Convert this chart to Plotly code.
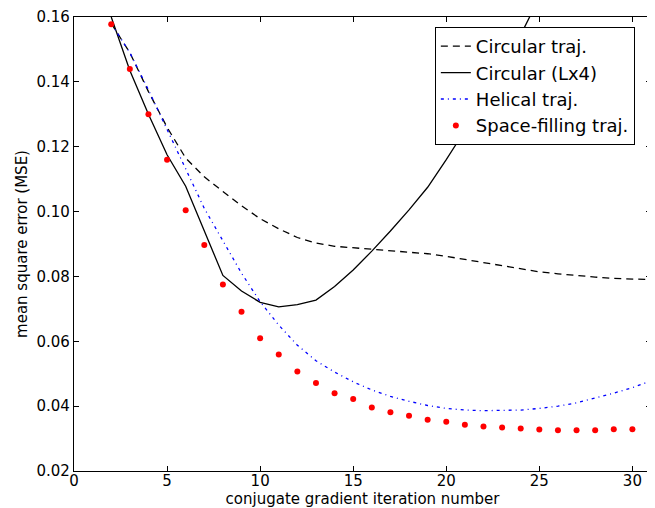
import plotly.graph_objects as go

iters = list(range(2, 32))

circular = [0.158, 0.149, 0.137, 0.126, 0.1165, 0.1107, 0.1062, 0.1018, 0.0978, 0.0947,
            0.0920, 0.0903, 0.0893, 0.0888, 0.0884, 0.0880, 0.0875, 0.0870, 0.0862, 0.0852,
            0.0842, 0.0832, 0.0822, 0.0814, 0.0808, 0.0802, 0.0798, 0.0794, 0.0791, 0.0790]

circular_lx4 = [0.160, 0.1435, 0.130, 0.1175, 0.1078, 0.094, 0.0803, 0.0755, 0.0720, 0.0706,
                0.0713, 0.0727, 0.0769, 0.0820, 0.0878, 0.0940, 0.1005, 0.1075, 0.1160, 0.1250,
                0.1340, 0.1440, 0.1545, 0.1660, 0.178, 0.190, 0.203, 0.216, 0.229, 0.242]

helical = [0.158, 0.149, 0.1375, 0.1255, 0.113, 0.101, 0.091, 0.081, 0.0722, 0.0650,
           0.0588, 0.0540, 0.0505, 0.0475, 0.0450, 0.0430, 0.0415, 0.0402, 0.0393, 0.0388,
           0.0386, 0.0386, 0.0388, 0.0393, 0.0400, 0.0410, 0.0424, 0.0440, 0.0457, 0.0478]

space_filling = [0.1578, 0.1440, 0.1300, 0.1160, 0.1004, 0.0897, 0.0775, 0.0691, 0.0609, 0.0559,
                 0.0507, 0.0471, 0.0440, 0.0422, 0.0396, 0.0381, 0.0370, 0.0358, 0.0352, 0.0343,
                 0.0337, 0.0334, 0.0331, 0.0328, 0.0326, 0.0326, 0.0326, 0.0329, 0.0329, 0.0331]

x_ticks = [0, 5, 10, 15, 20, 25, 30]
y_ticks = [0.02, 0.04, 0.06, 0.08, 0.10, 0.12, 0.14, 0.16]

fig = go.Figure()
fig.add_trace(go.Scatter(x=iters, y=circular, mode="lines", name="Circular traj.",
                         line=dict(color="black", width=1.3, dash="7px,5px")))
fig.add_trace(go.Scatter(x=iters, y=circular_lx4, mode="lines", name="Circular (Lx4)",
                         line=dict(color="black", width=1.3)))
fig.add_trace(go.Scatter(x=iters, y=helical, mode="lines", name="Helical traj.",
                         line=dict(color="blue", width=1.3, dash="3px,4px,1px,4px")))
fig.add_trace(go.Scatter(x=iters, y=space_filling, mode="markers", name="Space-filling traj.",
                         marker=dict(color="red", size=6, line=dict(width=0))))

axis_common = dict(showgrid=False, zeroline=False, showline=True, linecolor="black",
                   linewidth=1.2, mirror="ticks", ticks="inside", ticklen=5,
                   tickcolor="black", tickfont=dict(size=15, color="black"),
                   automargin=False)

fig.update_xaxes(range=[0, 31], tickvals=x_ticks, ticklabelstandoff=-4,
                 title=dict(text="conjugate gradient iteration number", font=dict(size=15), standoff=7),
                 **axis_common)
fig.update_yaxes(range=[0.02, 0.16], tickvals=y_ticks, tickformat=".2f",
                 title=dict(text="mean square error (MSE)", font=dict(size=15), standoff=5),
                 **axis_common)

# The page body has an 8px default margin, so the figure is 8px smaller
# and the margins are reduced by 8px to land the plot area where the reference has it.
fig.update_layout(
    width=647, height=500,
    margin=dict(l=66, r=4, t=9, b=37),
    paper_bgcolor="white", plot_bgcolor="white",
    font=dict(family="DejaVu Sans", color="black", size=15),
    showlegend=True,
    legend=dict(x=0.972, y=0.978, xanchor="right", yanchor="top",
                bgcolor="white", bordercolor="black", borderwidth=1,
                font=dict(size=18), tracegroupgap=0),
)

fig.write_html("out.html")
